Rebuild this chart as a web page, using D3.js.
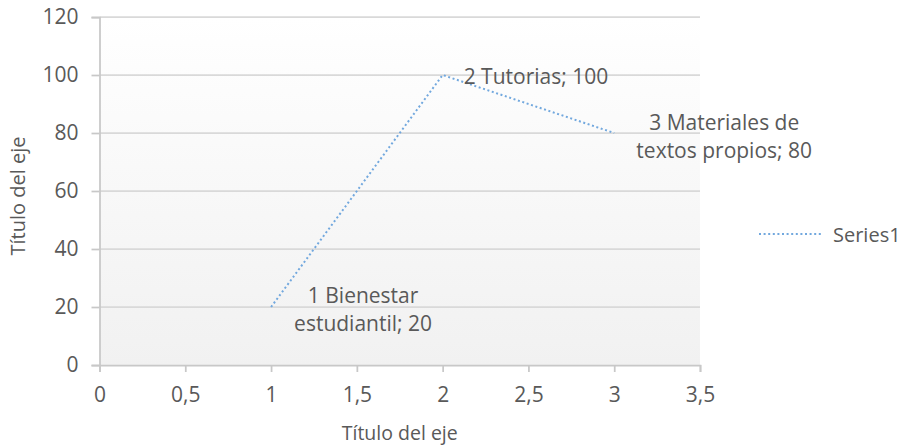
<!DOCTYPE html>
<html>
<head>
<meta charset="utf-8">
<script src="https://cdn.jsdelivr.net/npm/d3@7"></script>
<style>
  body { margin: 0; background: #fff; }
  text { font-family: "Open Sans", sans-serif; fill: #595959; }
</style>
</head>
<body>
<svg id="chart" width="908" height="446"></svg>
<script>
// data
let xValues = [1, 2, 3];
let yValues = [20, 100, 80];
let pointLabels = [
    ["1 Bienestar", "estudiantil; 20"],
    ["2 Tutorias; 100"],
    ["3 Materiales de", "textos propios; 80"]
];
let xTicks = [0, 0.5, 1, 1.5, 2, 2.5, 3, 3.5];
let yTicks = [0, 20, 40, 60, 80, 100, 120];
let seriesName = "Series1";
let axisTitleX = "Título del eje";
let axisTitleY = "Título del eje";

let svg = d3.select("#chart");
let margin = {top: 17, left: 99.5, right: 208, bottom: 81};
let width = 908 - margin.left - margin.right,
    height = 446 - margin.top - margin.bottom;

let x = d3.scaleLinear().domain([0, 3.5]).range([0, width]);
let y = d3.scaleLinear().domain([0, 120]).range([height, 0]);
let fmt = d => String(d).replace(".", ",");
let lineColor = "#72a8de";
let fontSize = 21;

let defs = svg.append("defs");
let grad = defs.append("linearGradient")
    .attr("id", "bg")
    .attr("x1", 0).attr("y1", 0).attr("x2", 0).attr("y2", 1);
grad.append("stop").attr("offset", "0%").attr("stop-color", "#ffffff");
grad.append("stop").attr("offset", "100%").attr("stop-color", "#f1f1f1");

let g = svg.append("g")
    .attr("transform", "translate(" + margin.left + "," + margin.top + ")");

g.append("rect")
    .attr("width", width)
    .attr("height", height)
    .attr("fill", "url(#bg)");

// gridlines
g.selectAll(".grid")
    .data(yTicks.filter(d => d > 0))
    .enter().append("line")
    .attr("class", "grid")
    .attr("x1", 0).attr("x2", width)
    .attr("y1", d => y(d)).attr("y2", d => y(d))
    .attr("stroke", "#d9d9d9")
    .attr("stroke-width", 1.75);

// y axis
let yAxis = g.append("g")
    .call(d3.axisLeft(y).tickValues(yTicks).tickSize(8).tickPadding(13).tickFormat(fmt));
yAxis.select(".domain").attr("stroke", "#c8c8c8").attr("stroke-width", 1.75);
yAxis.selectAll(".tick line").attr("stroke", "#c8c8c8").attr("stroke-width", 1.75);
yAxis.selectAll(".tick text")
    .attr("font-size", fontSize)
    .attr("font-family", "Open Sans")
    .attr("fill", "#595959");

// x axis
let xAxis = g.append("g")
    .attr("transform", "translate(0," + height + ")")
    .call(d3.axisBottom(x).tickValues(xTicks).tickSize(7).tickPadding(15).tickFormat(fmt));
xAxis.select(".domain").attr("stroke", "#c8c8c8").attr("stroke-width", 1.75);
xAxis.selectAll(".tick line").attr("stroke", "#c8c8c8").attr("stroke-width", 1.75);
xAxis.selectAll(".tick text")
    .attr("font-size", fontSize)
    .attr("font-family", "Open Sans")
    .attr("fill", "#595959");

// axis titles
svg.append("text")
    .attr("x", margin.left + width / 2)
    .attr("y", 440)
    .attr("text-anchor", "middle")
    .attr("font-size", 19.5)
    .text(axisTitleX);

svg.append("text")
    .attr("transform", "translate(25," + (margin.top + height / 2 + 5) + ") rotate(-90)")
    .attr("text-anchor", "middle")
    .attr("font-size", 20)
    .text(axisTitleY);

// series line
let data = xValues.map((d, i) => ({x: d, y: yValues[i], label: pointLabels[i]}));
let valueline = d3.line()
    .x(d => x(d.x))
    .y(d => y(d.y));

g.append("path")
    .datum(data)
    .attr("fill", "none")
    .attr("stroke", lineColor)
    .attr("stroke-width", 2)
    .attr("stroke-dasharray", "2,2.6")
    .attr("d", valueline);

// data labels: offsets relative to each point
let labelOffsets = [
    {dx: 92, dy: 2},
    {dx: 21, dy: 1},
    {dx: 110, dy: 3}
];
let lineGap = 28;

data.forEach((d, i) => {
    let off = labelOffsets[i];
    let n = d.label.length;
    let anchor = n > 1 ? "middle" : "start";
    let t = g.append("text")
        .attr("font-size", fontSize)
        .attr("text-anchor", anchor)
        .attr("dominant-baseline", "central");
    d.label.forEach((line, k) => {
        t.append("tspan")
            .attr("x", x(d.x) + off.dx)
            .attr("y", y(d.y) + off.dy + (k - (n - 1) / 2) * lineGap)
            .text(line);
    });
});

// legend
let legend = svg.append("g")
    .attr("transform", "translate(759,234)");
legend.append("line")
    .attr("x1", 0).attr("x2", 63)
    .attr("y1", 0).attr("y2", 0)
    .attr("stroke", lineColor)
    .attr("stroke-width", 2)
    .attr("stroke-dasharray", "2,2.6");
legend.append("text")
    .attr("x", 74)
    .attr("y", 0)
    .attr("font-size", 20)
    .attr("dominant-baseline", "central")
    .text(seriesName);
</script>
</body>
</html>
